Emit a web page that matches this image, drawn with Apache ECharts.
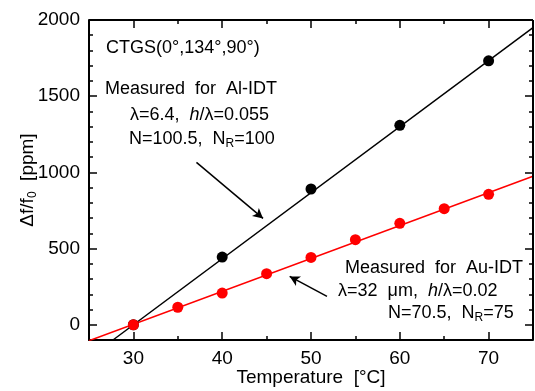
<!DOCTYPE html>
<html>
<head>
<meta charset="utf-8">
<script src="https://cdn.jsdelivr.net/npm/echarts@6/dist/echarts.min.js"></script>
<style>
html,body{margin:0;padding:0;background:#fff;}
#chart{width:535px;height:391px;}
</style>
</head>
<body>
<div id="chart"></div>
<script>
// ---- data ----
const tempAl = [30, 40, 50, 60, 70];
const dfAl = [0, 444, 891, 1309, 1732];
const tempAu = [30, 35, 40, 45, 50, 55, 60, 65, 70];
const dfAu = [0, 115, 208, 335, 442, 558, 666, 762, 856];
// linear fits (end points)
const fitAlT = [27.7, 75];
const fitAlV = [-100, 1950];
const fitAuT = [25, 75];
const fitAuV = [-105, 975];
// axis ranges and ticks
const xRange = [25, 75];
const yRange = [-100, 2000];
const xMajor = [30, 40, 50, 60, 70];
const xMinor = [35, 45, 55, 65];
const yMajor = [0, 500, 1000, 1500, 2000];
const yMinor = [100, 200, 300, 400, 600, 700, 800, 900, 1100, 1200, 1300, 1400, 1600, 1700, 1800, 1900];
// annotation arrows [from, to]
const alArrow = [[37.1, 1066], [44.6, 698]];
const auArrow = [[51.8, 186], [47.6, 317]];

const FONT = 'Liberation Sans, Arial, sans-serif';
const W = 535, H = 391;
const G = { left: 89, right: 2, top: 20, bottom: 51 };
const chart = echarts.init(document.getElementById('chart'));

function zip(a, b) { return a.map((v, i) => [v, b[i]]); }

// tick lengths (pixels) expressed in axis units of the grid
const plotW = W - G.left - G.right, plotH = H - G.top - G.bottom;
const xPerPx = (xRange[1] - xRange[0]) / plotW;
const yPerPx = (yRange[1] - yRange[0]) / plotH;
const MAJOR_LEN = 8, MINOR_LEN = 4;

const tickLines = [];
function seg(a, b, w) {
  return [{ coord: a, lineStyle: { color: '#000', width: w, type: 'solid' } }, { coord: b }];
}
xMajor.concat(xMinor).forEach((v, i) => {
  const dy = (i < xMajor.length ? MAJOR_LEN : MINOR_LEN) * yPerPx;
  tickLines.push(seg([v, yRange[0]], [v, yRange[0] + dy], 1.5));
  tickLines.push(seg([v, yRange[1]], [v, yRange[1] - dy], 1.5));
});
yMajor.concat(yMinor).forEach((v, i) => {
  const dx = (i < yMajor.length ? MAJOR_LEN : MINOR_LEN) * xPerPx;
  tickLines.push(seg([xRange[0], v], [xRange[0] + dx, v], 1.5));
  tickLines.push(seg([xRange[1], v], [xRange[1] - dx, v], 1.5));
});
// top and right frame edges
tickLines.push(seg([xRange[0], yRange[1]], [xRange[1], yRange[1]], 2));
tickLines.push(seg([xRange[1], yRange[1]], [xRange[1], yRange[0]], 2));

const axLine = { show: true, onZero: false, lineStyle: { color: '#000', width: 2 } };

const sub = { fontFamily: FONT, fontSize: 12, color: '#000', lineHeight: 10, verticalAlign: 'bottom' };
const norm = { fontFamily: FONT, fontSize: 18, color: '#000', lineHeight: 22, verticalAlign: 'middle' };
const ital = { fontFamily: FONT, fontSize: 18, color: '#000', lineHeight: 22, verticalAlign: 'middle', fontStyle: 'italic' };

function txt(x, y, text) {
  return {
    type: 'text', x: x, y: y, z: 100,
    style: {
      text: text, fill: '#000', font: '18px ' + FONT,
      verticalAlign: 'middle', align: 'left',
      rich: { a: norm, s: sub, i: ital }
    }
  };
}

const option = {
  backgroundColor: '#fff',
  animation: false,
  grid: { left: G.left, right: G.right, top: G.top, bottom: G.bottom, containLabel: false, outerBoundsMode: 'none' },
  xAxis: {
    type: 'value', min: xRange[0], max: xRange[1], position: 'bottom',
    axisLine: axLine, axisTick: { show: false }, splitLine: { show: false },
    axisLabel: { show: true, customValues: xMajor, fontFamily: FONT, fontSize: 19, color: '#000', margin: 9 },
    name: 'Temperature  [°C]', nameLocation: 'middle', nameGap: 28, nameMoveOverlap: false,
    nameTextStyle: { fontFamily: FONT, fontSize: 19, color: '#000' }
  },
  yAxis: {
    type: 'value', min: yRange[0], max: yRange[1], position: 'left',
    axisLine: axLine, axisTick: { show: false }, splitLine: { show: false },
    axisLabel: { show: true, customValues: yMajor, fontFamily: FONT, fontSize: 19, color: '#000', margin: 9,
      formatter: v => String(v) },
    name: '{a|Δf/f}{s|0}{a|  [ppm]}', nameLocation: 'middle', nameGap: 50, nameRotate: 90, nameMoveOverlap: false,
    nameTextStyle: {
      fontFamily: FONT, fontSize: 19, color: '#000',
      rich: {
        a: { fontFamily: FONT, fontSize: 19, color: '#000', lineHeight: 22, verticalAlign: 'middle' },
        s: { fontFamily: FONT, fontSize: 12, color: '#000', lineHeight: 10, verticalAlign: 'bottom' }
      }
    }
  },
  series: [
    {
      type: 'line', data: zip(fitAlT, fitAlV), symbol: 'none', clip: true,
      lineStyle: { color: '#000', width: 1.5 }, z: 2,
      markLine: {
        silent: true, symbol: ['none', 'arrow'], symbolSize: [8, 10],
        lineStyle: { color: '#000', width: 1.5, type: 'solid' },
        label: { show: false },
        data: [
          [{ coord: alArrow[0] }, { coord: alArrow[1] }],
          [{ coord: auArrow[0] }, { coord: auArrow[1] }]
        ]
      }
    },
    {
      type: 'line', data: zip(fitAuT, fitAuV), symbol: 'none', clip: true,
      lineStyle: { color: '#ff0000', width: 1.5 }, z: 3,
      markLine: {
        silent: true, symbol: ['none', 'none'], z: 10,
        lineStyle: { color: '#000', width: 1.5, type: 'solid' },
        label: { show: false },
        emphasis: { disabled: true },
        data: tickLines
      }
    },
    {
      type: 'scatter', data: zip(tempAl, dfAl), symbol: 'circle', symbolSize: 11,
      itemStyle: { color: '#000', opacity: 1 }, z: 4
    },
    {
      type: 'scatter', data: zip(tempAu, dfAu), symbol: 'circle', symbolSize: 11,
      itemStyle: { color: '#ff0000', opacity: 1 }, z: 5
    }
  ],
  graphic: [
    txt(106, 48, '{a|CTGS(0°,134°,90°)}'),
    txt(105, 89, '{a|Measured  for  Al-IDT}'),
    txt(130, 115, '{a|λ=6.4,  }{i|h}{a|/λ=0.055}'),
    txt(129, 139, '{a|N=100.5,  N}{s|R}{a|=100}'),
    txt(345, 268, '{a|Measured  for  Au-IDT}'),
    txt(338, 291, '{a|λ=32  μm,  }{i|h}{a|/λ=0.02}'),
    txt(388, 313, '{a|N=70.5,  N}{s|R}{a|=75}')
  ]
};
chart.setOption(option);
</script>
</body>
</html>
